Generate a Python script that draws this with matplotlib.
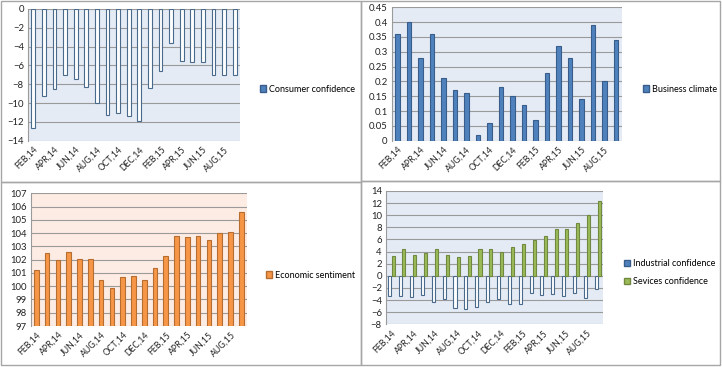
import matplotlib
matplotlib.use("Agg")
import matplotlib.pyplot as plt
from matplotlib.patches import Patch, Rectangle
import numpy as np

plt.rcParams['font.family'] = ['Lato', 'DejaVu Sans']
plt.rcParams['font.size'] = 7

months = ['FEB,14', 'MAR,14', 'APR,14', 'MAY,14', 'JUN,14', 'JUL,14', 'AUG,14',
          'SEP,14', 'OCT,14', 'NOV,14', 'DEC,14', 'JAN,15', 'FEB,15', 'MAR,15',
          'APR,15', 'MAY,15', 'JUN,15', 'JUL,15', 'AUG,15', 'SEP,15']

consumer = [-12.7, -9.2, -8.5, -7.0, -7.4, -8.3, -10.0, -11.3, -11.1, -11.4,
            -11.9, -8.4, -6.6, -3.6, -5.5, -5.6, -5.6, -7.0, -7.0, -7.0]
business = [0.36, 0.40, 0.28, 0.36, 0.21, 0.17, 0.16, 0.02, 0.06, 0.18,
            0.15, 0.12, 0.07, 0.23, 0.32, 0.28, 0.14, 0.39, 0.20, 0.34]
economic = [101.2, 102.5, 102.0, 102.6, 102.05, 102.05, 100.5, 99.9, 100.7, 100.8,
            100.5, 101.4, 102.3, 103.8, 103.7, 103.8, 103.5, 104.0, 104.1, 105.6]
industrial = [-3.4, -3.3, -3.5, -3.2, -4.3, -3.9, -5.3, -5.5, -5.1, -4.4,
              -3.9, -4.7, -4.7, -2.8, -3.2, -3.0, -3.4, -2.9, -3.7, -2.2]
services = [3.3, 4.5, 3.4, 3.7, 4.4, 3.5, 3.05, 3.2, 4.4, 4.4,
            4.0, 4.7, 5.3, 5.9, 6.6, 7.8, 7.8, 8.8, 10.1, 12.3]

W, H = 722, 367
fig = plt.figure(figsize=(W / 100, H / 100), dpi=100)


def px_axes(x0, y0, x1, y1):
    return fig.add_axes([x0 / W, 1 - y1 / H, (x1 - x0) / W, (y1 - y0) / H])


def style(ax, bg):
    ax.set_facecolor(bg)
    ax.set_axisbelow(True)
    ax.grid(axis='y', color='#9a9a9a', linewidth=0.8)
    for s in ['top', 'right', 'bottom']:
        ax.spines[s].set_visible(False)
    ax.spines['left'].set_color('#9a9a9a')
    ax.tick_params(length=0, pad=3, labelsize=6.8, colors='#222222')
    ax.set_xlim(-0.5, len(months) - 0.5)
    ticks = list(range(0, len(months), 2))
    ax.set_xticks(ticks)
    ax.set_xticklabels([months[i] for i in ticks], rotation=45, ha='right',
                       rotation_mode='anchor', fontsize=6.3)


def legend(ax, handles, x, y):
    fig.legend(handles=handles, loc='center left',
               bbox_to_anchor=(x / W, 1 - y / H), frameon=False,
               handlelength=0.7, handleheight=0.7, handletextpad=0.3,
               labelspacing=1.0, fontsize=6.5, borderaxespad=0)


x = np.arange(len(months))

# panel frames
for (x0, y0, x1, y1) in [(1, 1, 361, 182), (361, 1, 720, 181),
                         (1, 182, 361, 365), (361, 181, 720, 365)]:
    fig.patches.append(Rectangle((x0 / W, 1 - y1 / H), (x1 - x0) / W, (y1 - y0) / H,
                                 transform=fig.transFigure, fill=False,
                                 edgecolor='#a6a6a6', linewidth=1))

# consumer confidence
ax1 = px_axes(28, 9, 240, 140.7)
style(ax1, '#e4ebf5')
ax1.bar(x, consumer, width=0.35, color='white', edgecolor='#4a6a8c', linewidth=0.8)
ax1.set_ylim(-14, 0)
ax1.set_yticks(range(-14, 1, 2))
legend(ax1, [Patch(facecolor='#4f81bd', edgecolor='#385d8a', label='Consumer confidence')], 256, 89)

# business climate
ax2 = px_axes(391.7, 7.3, 621.7, 140.7)
style(ax2, '#e4ebf5')
ax2.bar(x, business, width=0.42, color='#4f81bd', edgecolor='#385d8a', linewidth=0.8)
ax2.set_ylim(0, 0.45)
ax2.set_yticks(np.arange(0, 0.451, 0.05))
ax2.set_yticklabels(['0', '0.05', '0.1', '0.15', '0.2', '0.25', '0.3', '0.35', '0.4', '0.45'])
legend(ax2, [Patch(facecolor='#4f81bd', edgecolor='#385d8a', label='Business climate')], 639, 89)

# economic sentiment
ax3 = px_axes(31, 193.3, 246.7, 326)
style(ax3, '#fdece3')
ax3.bar(x, economic, width=0.43, color='#f79646', edgecolor='#b66d31', linewidth=0.8)
ax3.set_ylim(97, 107)
ax3.set_yticks(range(97, 108))
legend(ax3, [Patch(facecolor='#f79646', edgecolor='#b66d31', label='Economic sentiment')], 262, 275)

# industrial / services confidence
ax4 = px_axes(386, 191, 603.3, 324.3)
style(ax4, '#e4ebf5')
ax4.bar(x - 0.15, industrial, width=0.28, color='white', edgecolor='#4a6a8c', linewidth=0.8)
ax4.bar(x + 0.15, services, width=0.28, color='#9bbb59', edgecolor='#71893f', linewidth=0.8)
ax4.set_ylim(-8, 14)
ax4.set_yticks(range(-8, 15, 2))
legend(ax4, [Patch(facecolor='#4f81bd', edgecolor='#385d8a', label='Industrial confidence'),
             Patch(facecolor='#9bbb59', edgecolor='#71893f', label='Sevices confidence')], 620, 272.5)

fig.savefig('out.png', dpi=100, facecolor='white')
